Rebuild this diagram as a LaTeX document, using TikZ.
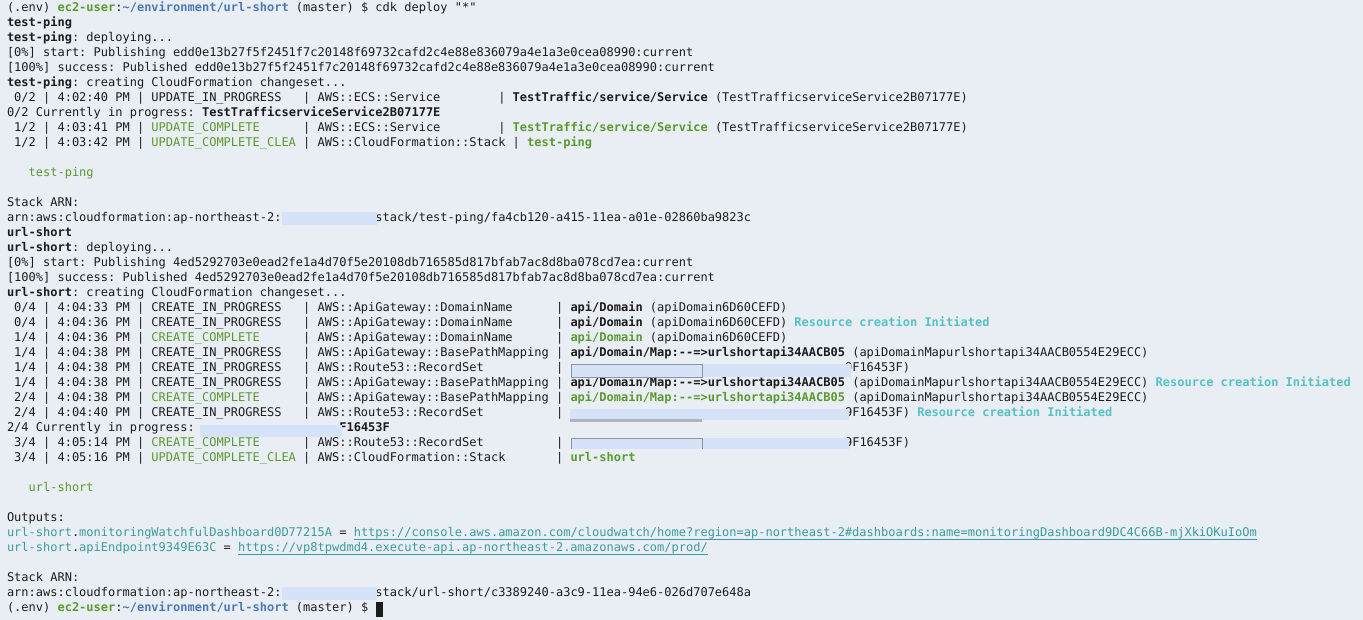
\documentclass[tikz,border=0pt]{standalone}
\usepackage{fontspec}
\setmonofont{DejaVu Sans Mono}
\definecolor{bg}{HTML}{E9EEF5}
\definecolor{txt}{HTML}{1C1C1C}
\definecolor{cgreen}{HTML}{5B9A2E}
\definecolor{cblue}{HTML}{4C7AB2}
\definecolor{ccyan}{HTML}{56C3C3}
\definecolor{cteal}{HTML}{3A9C9C}
\definecolor{redact}{HTML}{D5E2F8}
\definecolor{redgray}{HTML}{8E959E}
\newlength\cw
\setlength\cw{7.2246pt}
\newcommand\SPC[1]{\hspace*{#1\cw}}
\newcommand\BB[1]{\textbf{#1}}
\newcommand\GR[1]{\textcolor{cgreen}{#1}}
\newcommand\GB[1]{\textcolor{cgreen}{\textbf{#1}}}
\newcommand\CY[1]{\textcolor{ccyan}{\textbf{#1}}}
\newcommand\TL[1]{\textcolor{cteal}{#1}}
\newcommand\URL[1]{{\color{cteal}\setbox0\hbox{#1}\rlap{\rule[-3.3pt]{\wd0}{0.9pt}}\box0}}
\newcommand\LN[3]{\node[ln] (#1) at (7,{608-15*(#2-1)}) {#3};}
\newcommand\RED[4]{\fill[redact] (#1,620-#2) rectangle (#3,620-#4);}
\tikzset{
  ln/.style={anchor=base west, inner sep=0pt, outer sep=0pt, text=txt,
    font=\ttfamily\frenchspacing\fontsize{12}{15}\selectfont},
  redline/.style={draw=redgray, line width=0.8pt}
}
\begin{document}
\begin{tikzpicture}[x=1pt,y=1pt]
\fill[bg] (0,0) rectangle (1363,620);
\useasboundingbox (0,0) rectangle (1363,620);
\LN{l1}{1}{(.env) \GB{ec2-user}:\textcolor{cblue}{\textbf{\textasciitilde/environment/url-short}} (master) \$ cdk deploy "*"}
\LN{l2}{2}{\BB{test-ping}}
\LN{l3}{3}{\BB{test-ping}: deploying...}
\LN{l4}{4}{[0\%] start: Publishing edd0e13b27f5f2451f7c20148f69732cafd2c4e88e836079a4e1a3e0cea08990:current}
\LN{l5}{5}{[100\%] success: Published edd0e13b27f5f2451f7c20148f69732cafd2c4e88e836079a4e1a3e0cea08990:current}
\LN{l6}{6}{\BB{test-ping}: creating CloudFormation changeset...}
\LN{l7}{7}{\SPC{1}0/2 | 4:02:40 PM | UPDATE\_IN\_PROGRESS\SPC{3}| AWS::ECS::Service\SPC{8}| \BB{TestTraffic/service/Service} (TestTrafficserviceService2B07177E)}
\LN{l8}{8}{0/2 Currently in progress: \BB{TestTrafficserviceService2B07177E}}
\LN{l9}{9}{\SPC{1}1/2 | 4:03:41 PM | \GR{UPDATE\_COMPLETE}\SPC{6}| AWS::ECS::Service\SPC{8}| \GB{TestTraffic/service/Service} (TestTrafficserviceService2B07177E)}
\LN{l10}{10}{\SPC{1}1/2 | 4:03:42 PM | \GR{UPDATE\_COMPLETE\_CLEA} | AWS::CloudFormation::Stack | \GB{test-ping}}
\LN{l12}{12}{\SPC{3}\GR{test-ping}}
\LN{l14}{14}{Stack ARN:}
\LN{l15}{15}{arn:aws:cloudformation:ap-northeast-2:\SPC{13}stack/test-ping/fa4cb120-a415-11ea-a01e-02860ba9823c}
\LN{l16}{16}{\BB{url-short}}
\LN{l17}{17}{\BB{url-short}: deploying...}
\LN{l18}{18}{[0\%] start: Publishing 4ed5292703e0ead2fe1a4d70f5e20108db716585d817bfab7ac8d8ba078cd7ea:current}
\LN{l19}{19}{[100\%] success: Published 4ed5292703e0ead2fe1a4d70f5e20108db716585d817bfab7ac8d8ba078cd7ea:current}
\LN{l20}{20}{\BB{url-short}: creating CloudFormation changeset...}
\LN{l21}{21}{\SPC{1}0/4 | 4:04:33 PM | CREATE\_IN\_PROGRESS\SPC{3}| AWS::ApiGateway::DomainName\SPC{6}| \BB{api/Domain} (apiDomain6D60CEFD)}
\LN{l22}{22}{\SPC{1}0/4 | 4:04:36 PM | CREATE\_IN\_PROGRESS\SPC{3}| AWS::ApiGateway::DomainName\SPC{6}| \BB{api/Domain} (apiDomain6D60CEFD) \CY{Resource creation Initiated}}
\LN{l23}{23}{\SPC{1}1/4 | 4:04:36 PM | \GR{CREATE\_COMPLETE}\SPC{6}| AWS::ApiGateway::DomainName\SPC{6}| \GB{api/Domain} (apiDomain6D60CEFD)}
\LN{l24}{24}{\SPC{1}1/4 | 4:04:38 PM | CREATE\_IN\_PROGRESS\SPC{3}| AWS::ApiGateway::BasePathMapping | \BB{api/Domain/Map:-{}-=>urlshortapi34AACB05} (apiDomainMapurlshortapi34AACB0554E29ECC)}
\LN{l25}{25}{\SPC{1}1/4 | 4:04:38 PM | CREATE\_IN\_PROGRESS\SPC{3}| AWS::Route53::RecordSet\SPC{10}| \SPC{38}9F16453F)}
\LN{l26}{26}{\SPC{1}1/4 | 4:04:38 PM | CREATE\_IN\_PROGRESS\SPC{3}| AWS::ApiGateway::BasePathMapping | \BB{api/Domain/Map:-{}-=>urlshortapi34AACB05} (apiDomainMapurlshortapi34AACB0554E29ECC) \CY{Resource creation Initiated}}
\LN{l27}{27}{\SPC{1}2/4 | 4:04:38 PM | \GR{CREATE\_COMPLETE}\SPC{6}| AWS::ApiGateway::BasePathMapping | \GB{api/Domain/Map:-{}-=>urlshortapi34AACB05} (apiDomainMapurlshortapi34AACB0554E29ECC)}
\LN{l28}{28}{\SPC{1}2/4 | 4:04:40 PM | CREATE\_IN\_PROGRESS\SPC{3}| AWS::Route53::RecordSet\SPC{10}| \SPC{38}9F16453F) \CY{Resource creation Initiated}}
\LN{l29}{29}{2/4 Currently in progress: \SPC{19}\BB{F16453F}}
\LN{l30}{30}{\SPC{1}3/4 | 4:05:14 PM | \GR{CREATE\_COMPLETE}\SPC{6}| AWS::Route53::RecordSet\SPC{10}| \SPC{38}9F16453F)}
\LN{l31}{31}{\SPC{1}3/4 | 4:05:16 PM | \GR{UPDATE\_COMPLETE\_CLEA} | AWS::CloudFormation::Stack\SPC{7}| \GB{url-short}}
\LN{l33}{33}{\SPC{3}\GR{url-short}}
\LN{l35}{35}{Outputs:}
\LN{l36}{36}{\TL{url-short}.\TL{monitoringWatchfulDashboard0D77215A} = \URL{https://console.aws.amazon.com/cloudwatch/home?region=ap-northeast-2\#dashboards:name=monitoringDashboard9DC4C66B-mjXkiOKuIoOm}}
\LN{l37}{37}{\TL{url-short}.\TL{apiEndpoint9349E63C} = \URL{https://vp8tpwdmd4.execute-api.ap-northeast-2.amazonaws.com/prod/}}
\LN{l39}{39}{Stack ARN:}
\LN{l40}{40}{arn:aws:cloudformation:ap-northeast-2:\SPC{13}stack/url-short/c3389240-a3c9-11ea-94e6-026d707e648a}
\LN{l41}{41}{(.env) \GB{ec2-user}:\textcolor{cblue}{\textbf{\textasciitilde/environment/url-short}} (master) \$}
% cursor
\fill[txt] (376,620-602) rectangle (383,620-617);
% redactions
\RED{282}{212}{377}{225}
\RED{282}{587}{377}{600}
\RED{571}{364}{851}{377}
\draw[redline] (571,620-364) rectangle (702,620-377);
\RED{570}{409}{849}{420}
\fill[redgray!70] (570,620-419) rectangle (702,620-422.5);
\RED{200}{425}{342}{437}
\RED{571}{438}{849}{449}
\draw[redline] (571,620-449) -- (571,620-438) -- (702,620-438) -- (702,620-449);
\end{tikzpicture}
\end{document}
